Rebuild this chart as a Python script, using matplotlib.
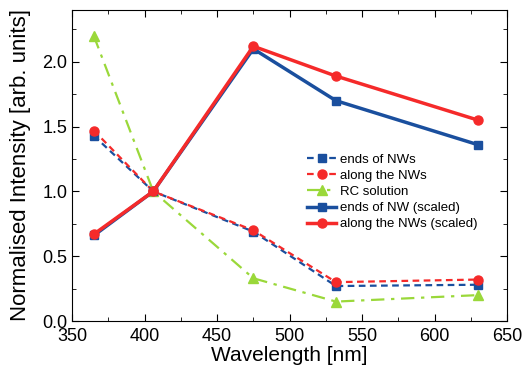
import matplotlib
matplotlib.use('Agg')
import matplotlib.pyplot as plt
from matplotlib.ticker import MultipleLocator

plt.rcParams['font.family'] = ['Liberation Sans', 'DejaVu Sans']

wavelength = [365, 406, 475, 532, 630]
ends_nws = [1.43, 1.0, 0.69, 0.27, 0.28]
along_nws = [1.47, 1.0, 0.70, 0.30, 0.32]
rc_solution = [2.2, 1.0, 0.33, 0.15, 0.20]
ends_scaled = [0.66, 1.0, 2.10, 1.70, 1.36]
along_scaled = [0.67, 1.0, 2.12, 1.89, 1.55]

blue = '#1a4f9e'
red = '#f52a2a'
green = '#9ad83a'

fig = plt.figure(figsize=(5.26, 3.69), dpi=100)
ax = fig.add_axes([0.137, 0.130, 0.827, 0.843])

ax.plot(wavelength, ends_nws, ls=(0, (3, 2)), color=blue, marker='s', ms=5.5, lw=1.6, label='ends of NWs')
ax.plot(wavelength, along_nws, ls=(0, (3, 2)), color=red, marker='o', ms=6.5, lw=1.6, label='along the NWs')
ax.plot(wavelength, rc_solution, ls=(0, (6, 3, 1.5, 3)), color=green, marker='^', ms=6.5, lw=1.6, label='RC solution')
ax.plot(wavelength, ends_scaled, ls='-', color=blue, marker='s', ms=5.5, lw=2.5, label='ends of NW (scaled)')
ax.plot(wavelength, along_scaled, ls='-', color=red, marker='o', ms=6.5, lw=2.5, label='along the NWs (scaled)')

ax.set_xlim(350, 650)
ax.set_ylim(0, 2.4)
ax.xaxis.set_major_locator(MultipleLocator(50))
ax.xaxis.set_minor_locator(MultipleLocator(25))
ax.yaxis.set_major_locator(MultipleLocator(0.5))
ax.yaxis.set_minor_locator(MultipleLocator(0.25))
ax.tick_params(which='both', direction='in', top=True, right=True, labelsize=13)
ax.tick_params(axis='x', pad=5)
ax.tick_params(which='major', length=5)
ax.tick_params(which='minor', length=3)
ax.set_xlabel('Wavelength [nm]', fontsize=15, labelpad=1)
ax.set_ylabel('Normalised Intensity [arb. units]', fontsize=16, labelpad=8)

ax.legend(loc='upper left', bbox_to_anchor=(0.525, 0.56), frameon=False, fontsize=9.5,
          handlelength=2.2, handletextpad=0.3, labelspacing=0.3, borderpad=0)

fig.savefig('out.png', dpi=100)
